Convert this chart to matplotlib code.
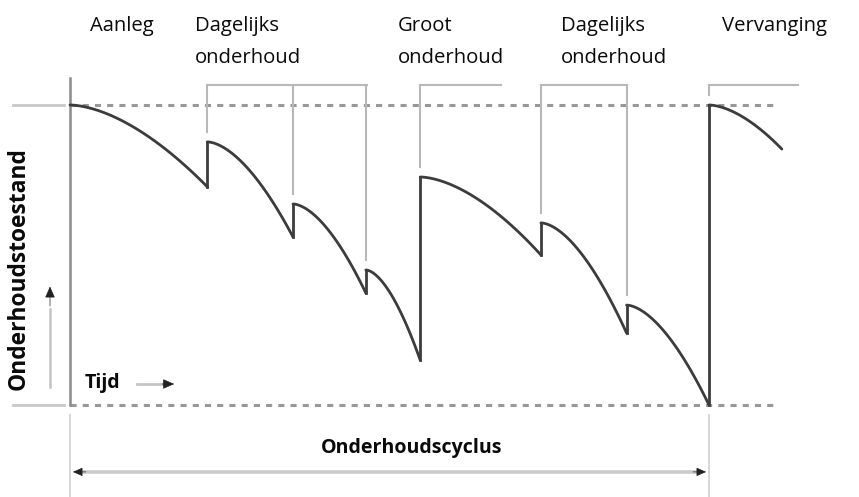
import numpy as np
import matplotlib
matplotlib.use("Agg")
import matplotlib.pyplot as plt

# ---------------- data (schematic units: time 0..100 = one maintenance cycle, condition 0..100) -------------
event_t = [0.0, 21.5, 34.9, 46.3, 54.8, 73.7, 87.1, 100.0]      # moment of each intervention
last_end_t = 111.4                                              # end of the drawn curve after replacement
start_c = [100.0, 87.7, 67.0, 45.0, 76.0, 60.7, 33.3, 100.0]    # condition right after the intervention
end_c = [72.7, 56.0, 37.3, 15.0, 50.0, 24.0, 0.0, 85.3]         # condition just before the next one
decay_power = 1.7

labels_top = [["Aanleg"], ["Dagelijks", "onderhoud"], ["Groot", "onderhoud"],
              ["Dagelijks", "onderhoud"], ["Vervanging"]]
label_t = [3.1, 19.6, 51.3, 76.8, 102.0]

bracket_span = [(21.6, 46.5), (54.8, 67.4), (73.7, 87.2), (100.0, 113.9)]
bracket_drops = [[21.5, 34.9, 46.3], [54.8], [73.7, 87.1], [100.0]]

y_label = "Onderhoudstoestand"
x_label = "Tijd"
cycle_label = "Onderhoudscyclus"

# ---------------- figure ----------------
W, H = 859, 497
fig = plt.figure(figsize=(W / 100, H / 100), dpi=100)
ax = fig.add_axes([0, 0, 1, 1])
px_per_t = 6.39
px_per_c = 3.0
x0_px, y0_px = 70, 405
ax.set_xlim(-x0_px / px_per_t, (W - x0_px) / px_per_t)
ax.set_ylim(-(H - y0_px) / px_per_c, y0_px / px_per_c)
ax.axis("off")
renderer = fig.canvas.get_renderer()

dark = "#3c3c3c"
mid = "#8a8a8a"
light = "#b8b8b8"
dot = "#989898"
txt = "#0a0a0a"
font = "Open Sans"


def fit_size(s, width_px, weight="normal"):
    t = fig.text(0, 0, s, fontsize=10, family=font, fontweight=weight)
    w = t.get_window_extent(renderer).width
    t.remove()
    return 10 * width_px / w


reg_size = fit_size("onderhoud", 106)
bold_size = fit_size(cycle_label, 182, "bold")
ylab_size = fit_size(y_label, 243, "bold")

# reference dotted lines (0 and 100) with solid stubs on the left
for c in (0, 100):
    ax.plot([0, 110.8], [c, c], color=dot, lw=2.2, ls=(0, (2.0, 2.0)), solid_capstyle="butt")
    ax.plot([-8.9, -0.9], [c, c], color="#c8c8c8", lw=2.0)

# vertical axis line
ax.plot([0, 0], [0, 109], color=mid, lw=1.8)

# brackets at top
br_c = 106.7
gap = 3.3
for (a, b), drops in zip(bracket_span, bracket_drops):
    ax.plot([a, b], [br_c, br_c], color=light, lw=1.5)
    for t in drops:
        idx = event_t.index(t)
        ax.plot([t, t], [br_c, start_c[idx] + gap], color=light, lw=1.5)

# condition curve
seg_ends = event_t[1:] + [last_end_t]
for i, (t0, t1) in enumerate(zip(event_t, seg_ends)):
    t = np.linspace(t0, t1, 120)
    u = (t - t0) / (t1 - t0)
    c = start_c[i] - (start_c[i] - end_c[i]) * u ** decay_power
    ax.plot(t, c, color=dark, lw=2.0, solid_capstyle="round")
    if i > 0:
        ax.plot([t0, t0], [end_c[i - 1], start_c[i]], color=dark, lw=2.0)

# top labels
for lines, t in zip(labels_top, label_t):
    ax.text(t, 124.7, lines[0], fontsize=reg_size, family=font, color=txt, ha="left", va="baseline")
    if len(lines) > 1:
        ax.text(t, 114.0, lines[1], fontsize=reg_size, family=font, color=txt, ha="left", va="baseline")

# y label and arrow
ax.text(-8.0, 45.5, y_label, rotation=90, fontsize=ylab_size, family=font, fontweight="bold",
        color=txt, ha="center", va="center")
ax.plot([-3.13, -3.13], [6, 32], color="#c4c4c4", lw=1.8)
ax.annotate("", xy=(-3.13, 39.5), xytext=(-3.13, 33),
            arrowprops=dict(arrowstyle="-|>,head_length=0.5,head_width=0.22", color="#222222", lw=0.5,
                            mutation_scale=14, shrinkA=0, shrinkB=0))

# Tijd label and arrow
ax.text(2.35, 5.7, x_label, fontsize=bold_size, family=font, fontweight="bold", color=txt,
        ha="left", va="baseline")
ax.plot([10.5, 14.5], [7, 7], color="#c4c4c4", lw=2.0)
ax.annotate("", xy=(16.3, 7), xytext=(14.4, 7),
            arrowprops=dict(arrowstyle="-|>,head_length=0.5,head_width=0.22", color="#222222", lw=0.5,
                            mutation_scale=14, shrinkA=0, shrinkB=0))

# bottom cycle marker
for t in (0, 100):
    ax.plot([t, t], [-3.3, -31], color="#d4d4d4", lw=1.3)
ax.plot([1.5, 98.5], [-22.3, -22.3], color="#cccccc", lw=2.6)
for tip, back in ((0.45, 2.5), (99.55, 97.5)):
    ax.annotate("", xy=(tip, -22.3), xytext=(back, -22.3),
                arrowprops=dict(arrowstyle="-|>,head_length=0.5,head_width=0.22", color="#222222",
                                lw=0.5, mutation_scale=12, shrinkA=0, shrinkB=0))
ax.text(53.4, -14.3, cycle_label, fontsize=bold_size, family=font, fontweight="bold", color=txt,
        ha="center", va="center")

fig.savefig("out.png", dpi=100, facecolor="white")
